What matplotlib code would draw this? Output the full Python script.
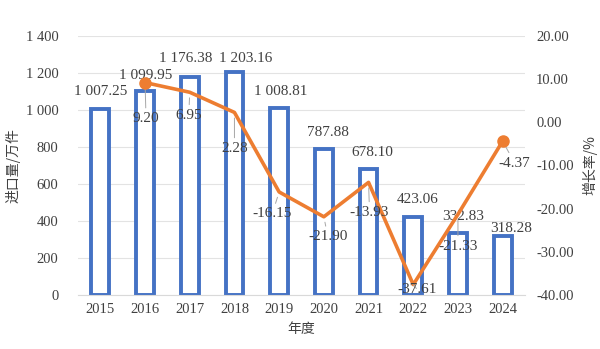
import numpy as np
import matplotlib
matplotlib.use("Agg")
import matplotlib.pyplot as plt

# data
years = ['2015', '2016', '2017', '2018', '2019', '2020', '2021', '2022', '2023', '2024']
imports = [1007.25, 1099.95, 1176.38, 1203.16, 1008.81, 787.88, 678.10, 423.06, 332.83, 318.28]
import_labels = ['1 007.25', '1 099.95', '1 176.38', '1 203.16', '1 008.81',
                 '787.88', '678.10', '423.06', '332.83', '318.28']
growth = [9.20, 6.95, 2.28, -16.15, -21.90, -13.93, -37.61, -21.33, -4.37]
growth_years = years[1:]
left_ticks = [0, 200, 400, 600, 800, 1000, 1200, 1400]
left_tick_labels = ['0', '200', '400', '600', '800', '1 000', '1 200', '1 400']
right_ticks = [-40, -30, -20, -10, 0, 10, 20]

plt.rcParams['axes.unicode_minus'] = False
NUM_FONT = ['Liberation Serif', 'Noto Sans CJK SC']
CJK_FONT = ['Noto Sans CJK SC', 'DejaVu Sans']
TXT = '#404040'
BLUE = '#4472C4'
ORANGE = '#ED7D31'

fig = plt.figure(figsize=(6.0, 3.49), dpi=100)
ax = fig.add_axes([0.13, 0.155, 0.745, 0.742])
ax2 = ax.twinx()

x = np.arange(len(years))
ax.bar(x, imports, width=0.4, facecolor='white', edgecolor=BLUE, linewidth=2.8, zorder=2)
ax.set_xlim(-0.5, len(years) - 0.5)
ax.set_ylim(0, 1400)
ax.set_yticks(left_ticks)
ax.set_yticklabels(left_tick_labels, family=NUM_FONT, fontsize=10.5, color=TXT)
ax.set_xticks(x)
ax.set_xticklabels(years, family=NUM_FONT, fontsize=10.5, color=TXT)
ax.grid(axis='y', color='#e3e3e3', lw=0.8, zorder=0)
ax.tick_params(axis='y', length=0, pad=14)
ax.tick_params(axis='x', length=0, pad=6)
for s in ['top', 'left', 'right']:
    ax.spines[s].set_visible(False)
ax.spines['bottom'].set_color('#d9d9d9')
ax.set_ylabel('进口量/万件', family=CJK_FONT, fontsize=10, color=TXT, labelpad=4)
ax.set_xlabel('年度', family=CJK_FONT, fontsize=10, color=TXT, labelpad=4)

# bar value labels (offsets in pixels)
bar_offsets = [(0, 17), (1, 16), (-4, 19), (11, 14), (2, 17),
               (4, 17), (4, 17), (4, 17), (5, 17), (8, 8)]
for i, (v, lab) in enumerate(zip(imports, import_labels)):
    dx, dy = bar_offsets[i]
    ax.annotate(lab, (x[i], v), xytext=(dx, dy), textcoords='offset pixels',
                ha='center', va='center', family=NUM_FONT, fontsize=11, color=TXT)

# growth line on right axis
gx = x[1:]
ax2.plot(gx, growth, color=ORANGE, lw=2.6, zorder=3)
ax2.plot([gx[0], gx[-1]], [growth[0], growth[-1]], 'o', color=ORANGE, ms=8, zorder=4)
ax2.set_ylim(-40, 20)
ax2.set_yticks(right_ticks)
ax2.set_yticklabels(['%.2f' % t for t in right_ticks], family=NUM_FONT, fontsize=10.5, color=TXT)
ax2.tick_params(length=0, pad=8)
for s in ['top', 'left', 'right', 'bottom']:
    ax2.spines[s].set_visible(False)
ax2.set_ylabel('增长率/%', family=CJK_FONT, fontsize=10, color=TXT, rotation=90, labelpad=6)

line_offsets = [(1, -36), (-1, -23), (0, -36), (-7, -22), (4, -20),
                (1, -30), (4, -5), (0, -32), (12, -22)]
for i, v in enumerate(growth):
    dx, dy = line_offsets[i]
    ax2.annotate('%.2f' % v, (gx[i], v), xytext=(dx, dy), textcoords='offset pixels',
                 ha='center', va='center', family=NUM_FONT, fontsize=11, color=TXT,
                 arrowprops=dict(arrowstyle='-', color='#a6a6a6', lw=0.7,
                                 shrinkA=1, shrinkB=4))

fig.savefig('out.png', dpi=100)
